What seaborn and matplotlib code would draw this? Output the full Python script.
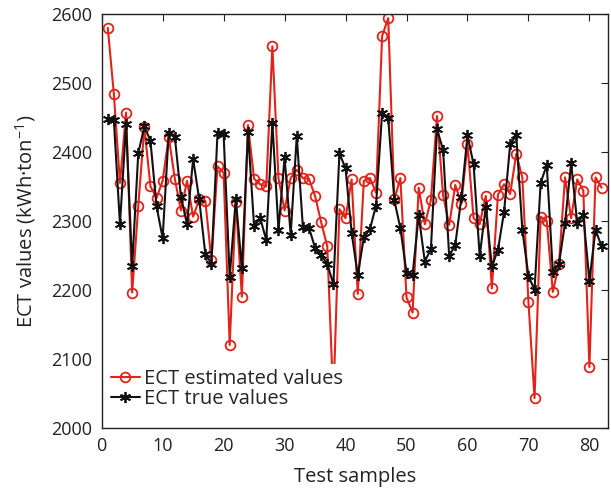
import matplotlib
matplotlib.use("Agg")
import matplotlib.pyplot as plt
import seaborn as sns
import pandas as pd

samples = list(range(1, 83))
estimated = [2580, 2484, 2355, 2457, 2196, 2321, 2436, 2350, 2333, 2358,
             2422, 2361, 2315, 2358, 2306, 2331, 2329, 2243, 2379, 2370,
             2120, 2328, 2190, 2439, 2361, 2353, 2350, 2553, 2362, 2315,
             2362, 2374, 2362, 2361, 2336, 2298, 2263, 2040, 2317, 2304,
             2360, 2194, 2358, 2362, 2341, 2568, 2594, 2331, 2362, 2189,
             2167, 2348, 2295, 2330, 2452, 2337, 2294, 2352, 2325, 2411,
             2304, 2295, 2336, 2202, 2338, 2353, 2339, 2397, 2363, 2182,
             2043, 2306, 2300, 2197, 2237, 2363, 2304, 2360, 2344, 2088,
             2363, 2348]
true_vals = [2448, 2446, 2295, 2440, 2234, 2398, 2437, 2416, 2321, 2275,
             2428, 2422, 2335, 2295, 2390, 2331, 2252, 2238, 2427, 2426,
             2219, 2332, 2231, 2429, 2292, 2304, 2272, 2442, 2287, 2392,
             2280, 2423, 2291, 2290, 2261, 2250, 2238, 2208, 2398, 2376,
             2283, 2221, 2276, 2288, 2322, 2457, 2449, 2330, 2289, 2225,
             2222, 2308, 2241, 2259, 2433, 2403, 2249, 2265, 2334, 2424,
             2382, 2249, 2320, 2234, 2258, 2313, 2411, 2424, 2287, 2220,
             2200, 2355, 2381, 2226, 2237, 2297, 2384, 2297, 2308, 2213,
             2287, 2263]
series_names = ["ECT estimated values", "ECT true values"]
x_ticks = [0, 10, 20, 30, 40, 50, 60, 70, 80]
y_ticks = [2000, 2100, 2200, 2300, 2400, 2500, 2600]

sns.set_style("white")
plt.rcParams['font.family'] = ['Open Sans', 'DejaVu Sans']
plt.rcParams['mathtext.default'] = 'regular'

df_est = pd.DataFrame({"x": samples, "y": estimated})
df_true = pd.DataFrame({"x": samples, "y": true_vals})

fig = plt.figure(figsize=(6.11, 4.91), dpi=100)
ax = fig.add_axes([0.1664, 0.1289, 0.9946 - 0.1664, 0.9715 - 0.1289])

red = '#e2231a'
sns.lineplot(data=df_est, x="x", y="y", ax=ax, color=red, lw=1.5,
             marker='o', markersize=7, markerfacecolor='none',
             markeredgecolor=red, markeredgewidth=1.3, label=series_names[0])
sns.lineplot(data=df_true, x="x", y="y", ax=ax, color='#111111', lw=1.5,
             marker=(6, 2, 0), markersize=8, markeredgecolor='#111111',
             markeredgewidth=1.3, label=series_names[1])

ax.set_xlim(0, 83)
ax.set_ylim(2000, 2600)
ax.set_xticks(x_ticks)
ax.set_yticks(y_ticks)
ax.tick_params(direction='in', length=5, width=0.8, top=True, right=True,
               labelsize=13, colors='#222222', pad=7)
for s in ax.spines.values():
    s.set_linewidth(1.0)
    s.set_color('#222222')
ax.set_xlabel("Test samples", fontsize=14.5, color='#222222', labelpad=8)
ax.set_ylabel("ECT values (kWh\u00b7ton$^{-1}$)", fontsize=14.5, color='#222222', labelpad=9)

leg = ax.legend(loc='upper left', bbox_to_anchor=(0.008, 0.154), frameon=True,
                fontsize=14.5, handlelength=1.45, handletextpad=0.2,
                labelspacing=0.02, borderpad=0.25, borderaxespad=0.0)
leg.get_frame().set_facecolor('white')
leg.get_frame().set_edgecolor('none')
leg.get_frame().set_alpha(1.0)
leg.set_zorder(10)

fig.savefig("out.png", dpi=100)
